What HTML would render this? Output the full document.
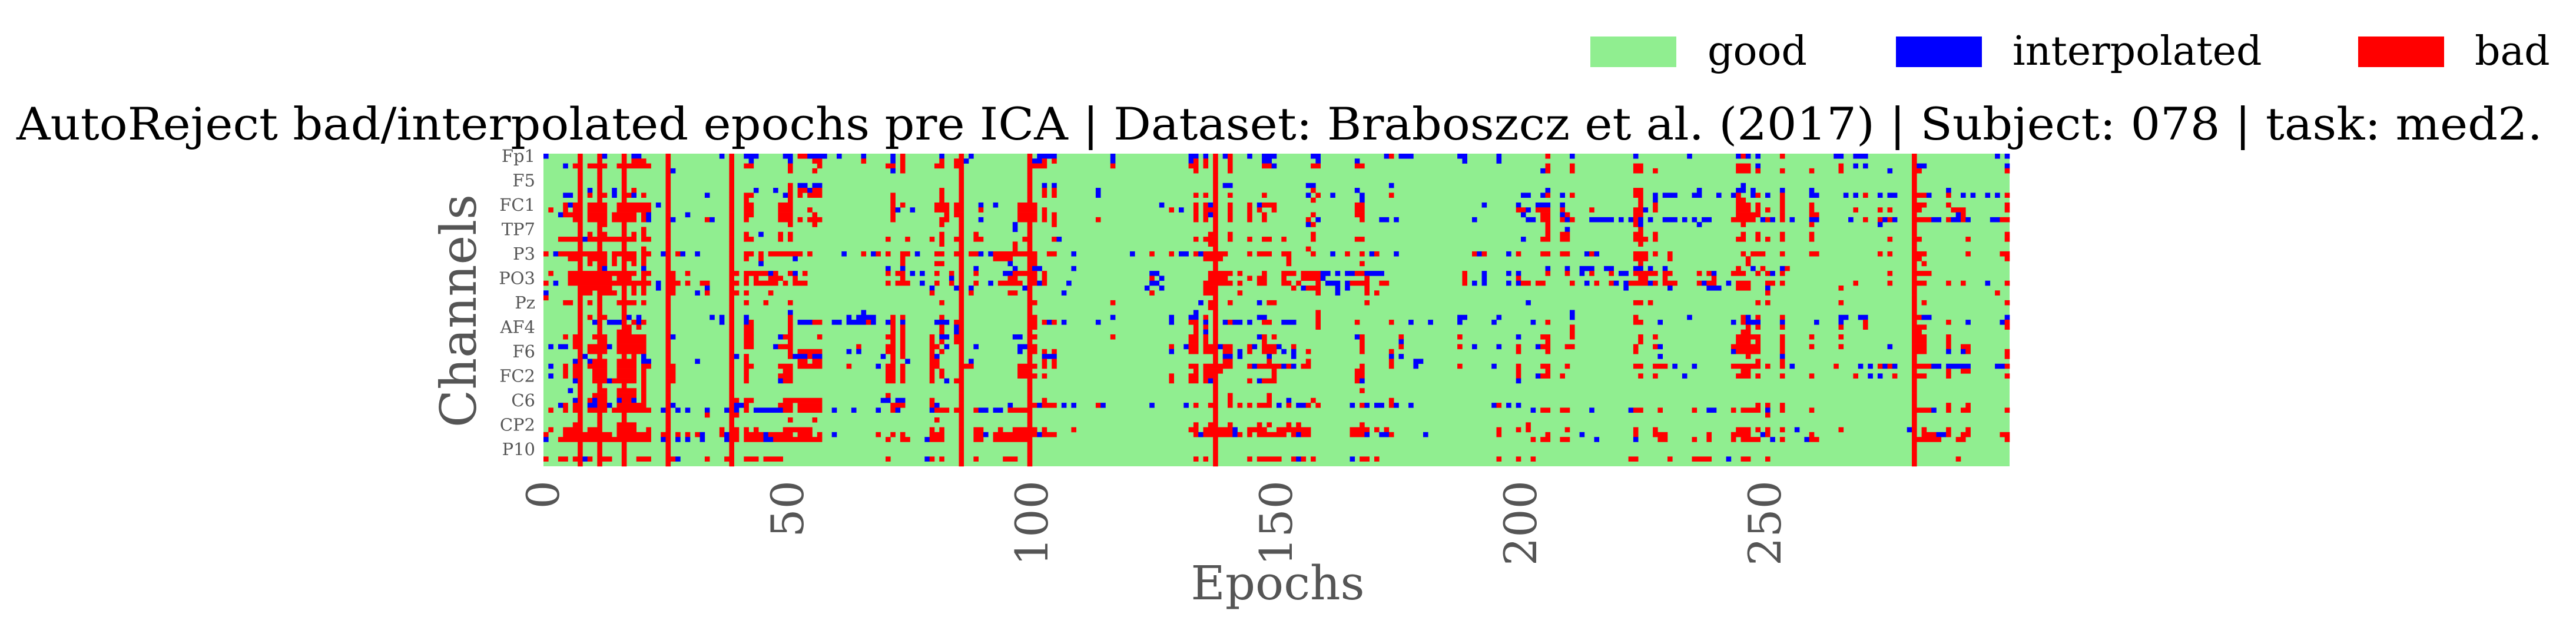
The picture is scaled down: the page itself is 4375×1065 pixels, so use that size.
<!DOCTYPE html>
<html><head><meta charset="utf-8"><style>
html,body{margin:0;padding:0;background:#fff;}
svg{display:block;}
text{font-family:"DejaVu Serif","Liberation Serif",serif;}
</style></head><body>
<svg id="chart" width="4375" height="1065" viewBox="0 0 4375 1065" xmlns="http://www.w3.org/2000/svg">
<g>
<rect x="2701" y="62" width="146" height="52" fill="#90ee90"/>
<text x="2900" y="110" font-size="68" fill="#000">good</text>
<rect x="3220" y="62" width="146" height="52" fill="#0000ff"/>
<text x="3418" y="110" font-size="68" fill="#000">interpolated</text>
<rect x="4005" y="62" width="146" height="52" fill="#ff0000"/>
<text x="4203" y="110" font-size="68" fill="#000">bad</text>
</g>
<text x="2173" y="237" font-size="76" text-anchor="middle" textLength="4290" lengthAdjust="spacingAndGlyphs" fill="#000">AutoReject bad/interpolated epochs pre ICA | Dataset: Braboszcz et al. (2017) | Subject: 078 | task: med2.</text>
<g id="plot"></g>
<g id="yticks"></g>
<g id="xticks"></g>
<text transform="translate(808,528) rotate(-90)" font-size="84" text-anchor="middle" fill="#555">Channels</text>
<text x="2170" y="1018" font-size="80" text-anchor="middle" fill="#555">Epochs</text>
</svg>
<script>
const nEpochs = 300;
const channelNames = ["Fp1","AF7","AF3","F1","F3","F5","F7","FT7","FC5","FC3","FC1","C1","C3","C5","T7","TP7","CP5","CP3","CP1","P1","P3","P5","P7","P9","PO7","PO3","O1","Iz","Oz","POz","Pz","CPz","Fpz","Fp2","AF8","AF4","AFz","Fz","F2","F4","F6","F8","FT8","FC6","FC4","FC2","FCz","Cz","C2","C4","C6","T8","TP8","CP6","CP4","CP2","P2","P4","P6","P8","P10","PO8","PO4","O2"];
const xTickValues = [0,50,100,150,200,250];
const badEpochs = [7,11,16,25,38,85,99,137,280];
const cellRows = [
"b0 b11 b12 b16 b18-19 b36 b41-43 b49-50 52-53 b54-57 b60 b65 b71 73 b81 b87 b101 b102-104 b116 b132-133 b135 b139 140 b144 b147-149 b157-158 b172 173 b175-177 b187-188 b195 205 b210 b223 b234 b244 245 b246 b248 253 b264-265 b268-270 b297 b299",
"b11 18-20 b38 b42 b50 55-56 65 b71 73 81 84 b86 b100 b101 102 104 b116 b132 133 135 140 b147-148 b158 b166 b188 b195",
"b4 6 9-12 15 b16 17-21 41-42 50 56 70-71 73 80 81 84 99-101 102 116 132-133 135 140 147-148 b149 157-158 166-167 205 210 223-224 244-246 b248 265 b268 b270 b281-282 b299",
"11 16 b26 50 55 b71 73 133 140 b204 205 210 223-224 227 244-246 248 253 259 265 b275 281 299",
"",
"",
"b16 50 b52-53 b55-56 b102 b104 b139-140 b156-157 b173 b245",
"b9 b14 18 b43 b47 50 52-53 b54 55-56 81 102 104 b113 157 b166 b205 223-224 b236 b244-245 b247 b253 b259 b287",
"b4-5 9 12 b14 17 b18 20 b33 41-42 b49 50 52 54-56 71 81 b99 102 104 b113 133 135 140 147 b156 158 b161 b167 173 b200 b201 b204 205 b208 210 223-224 b227 b229-231 b235-236 b240 b243 244 b247 248 b250 253 b259-260 b266 b268 270 b273 b275-276 281-282 b283 287 b290 b292 b295 b297 299",
"41 50 71 81 157 b167 224 b227 244-245 253",
"4 b5 6 9-12 15-21 b23 41-42 48-50 71 73 80-82 84 b89 b92 97-98 100 b126 133 135 b136 140 144 b146 147-149 166-167 b192 b199 b203-205 b208 224 227 244-246 248 253 259 281-282 287 299",
"1 4 6 9-12 15-21 41-42 48-50 54 71 b72 b75 80-82 84 89 97-98 100 102 128 b130 133 135-136 140 144 146 149 166-167 199-200 b201 203-205 208 214 223-224 b225 227 244-246 248 250 253 259 268 273 275 281 288-290 299",
"b3 4-6 9-12 14-18 20 b21 b29 41-42 48-50 55 71 82 84 97-98 100 102 104 133 135 b136 140 144 147 157 166-167 b200 204-205 b208 209 223-224 244-248 253 259-260 b289 290",
"6 9-12 14-18 20 b21 b26 33 b34 41 48-50 52 54-56 71 81-82 b89 97-98 100 102 104 113 133 135 140 144 147 156 b158 167 b171 b172 b174 b190 b201-202 204-205 208 b209 210 b214-218 b220 b222 223 b224 b226 b229-231 b233 b235 b237-238 243-247 b249 250 b251 253 b255 b259-260 b267 270 273 b274 275 b276 281-283 b284-285 287 b288-289 290 b291 b296-297 298 299",
"12 50 55 81 b96 104 b156 157 205 223 b224 b236 245 259 b273",
"20 b96 205 b209 224",
"9 12 18 20 41 b44 48 50 81 88 136 140 157 205 208-209 223-224 227 245 248 253 259 299",
"3-6 b8 9-18 20-21 41-42 48 50 70 74 79 81 84 88-89 98 104 b105 133 135-136 140 144 147-148 151 157 166-167 b200 204-205 208-209 223-225 227 244-245 248 250 253 259 275 281 291 299",
"81 96 136 224",
"20 96 156",
"0 b2 3-12 14-18 20-21 b24 27 b28 b31 41-42 44 46-52 54 b61 65 b67 68 70 73-74 b76 80-81 84 87-88 b89 b91 92-98 100 103-104 b108 b120 124 128 b130-131 133 b134 135-139 144 146-148 151-152 157 b161 164 167 b169 170 b174 190 b191 192 b197 199 204-205 208-209 b213 214 b215 223-225 227 230 245 247-249 253 259-260 273 275 281-282 291 298-299",
"5-7 9-12 14 16-18 20 41 44 b51 73 92-95 100 135-138 152 223-225 230 246 281 299",
"9 12 14 18 20 b44 73 80-81 b95 100 152 167 224 246 282",
"b12 b20 b70 b73 b88 b96 b100 b101 b108 b205 b209 b212-214 b217-218 b223-224 b226 b229 244 b247 249 b253 254",
"1 5-10 12-18 20-21 26 29 39 41-45 b46 47 50 b51 53 70 72-73 b75 b77 80 83 88 b94-95 96-98 100 102 b124-125 136-140 142 147 151-153 155-158 b159-160 b162 b164-165 166-167 b168-171 188 b192 b197 b199 205 209 b212 214 218 b220-221 223-227 229-230 236 238 b239 243-245 248 250 b251 253 275 281-283",
"5-10 12-13 15 17 20 26 41 43 46-48 51 73 b83 95-96 100 102 124 b126 136-139 144 146-147 151 155-158 b159 168 188 b192 199 224-225 229 239",
"0 b2 5-21 b23 26-27 29 32-33 39 41 43-47 49 51-53 70 72-74 b77 80 83 88 b91 93-97 100 b101 102 b107 b124-125 135-140 142 146-147 151-152 154 158 b160-162 b164 165-168 171-172 188 b190 b192 b197 b199 200-201 203-204 210 b213 215 218 b219 b221 222-225 b226 227 229-231 236 b237 238-239 b242 244-246 250-251 253 268 275 281-282 287 290 b295 299",
"8-10 12-13 18 20 b23 26 b33 b79 b84 b87 b98 b123 b126 135-136 153 b155 156-158 b162 b164 168 b221 b230 b238-240 244-246 b250 265",
"b0 8-9 12-14 18 20 26 b31 33 39 41 46 79 87 95-96 b106 124 135-136 142 158 b162 168 170 250 297",
"0",
"4-5 9 15-18 20 41 45 50 81 100 116 b134 136 140 b146 148-149 168 b201 223-224 226 248 250 265 282 299",
"136",
"b11 b50 b65 b133 158 b210",
"9 12 b17 b19 b34 b36 b41 50 b62 b64-67 71 73 81 100 b116 b128 b132-133 135 b146-147 158 b187-188 b195 b210 223 b234 245 b246 248 253 b265-266 b269-270 281 b282-283 b299",
"b10 b13-15 18 b19 20 b36 b41 42 50 b52-54 55-56 b59-60 b62-65 66 b67 b70 71 b73 b80-82 84 100 102 b103 104 b106 b113 b128 132-133 b135 b139 140 b141-142 b144 147-148 b151-153 158 166 173 b177 b181 b187 b194 b202 205 223-224 b228 b243 245 b246-248 b253 b260 b265 270 287 b291 b298 299",
"17 19 41-42 50 71 73 81 b84 100 133 135 158 210 246 248 253 265 270 281-282 299",
"15 17 41-42 50 71 73 81 b84 133 b135 210 245-246 281",
"4 6 10 12 15 17-20 b26 41-42 b48 49-50 56 70-71 73 79 b81-82 84 b96-97 100 116 132-133 135 b146 147 149 b166 167 175 187 b199 204-205 210 224 227 244-248 253 259 265 281-282 287",
"6 12 15 17-20 41-42 50 71 73 79 81 84 132-133 135 147 167 b175 205 224 244-246 248 253 281-282 287",
"b1 b3-4 6 9-10 12 b13 15 17-20 41-42 b47 48-50 64 70-71 73 79-80 b82 b88 b97-98 100 128 b131 132-133 135-136 b138 139-140 144 b145 147-149 b150 153 167 175 187 b190 b195 199 b203 204-205 209-210 223 227 b228 243-248 253 259 265 b275 281-282 287 290-291",
"9-10 12 15 17-20 50 52-56 b62 b64 70-71 73 79 81 b97 100 102 104 b128 132-133 135-136 139-140 b142 144 147-149 b151 b153 156 167 173 199 205 223 b243 244-248 253 281-282 b287 b290 291 299",
"b8 18 b20 b39 41 50 b51-53 54 b55-56 b69 71 73 79 b80 b102-104 b139-140 b142 b148 b153 b173 b175 b228 246 b253 299",
"b6 b9 10 12 15 17-18 b20-21 b31 41 52-53 55-56 71 b74 79 80 b87 102 104 139-140 148 156 173 b178-179 248 253",
"b1 4 6 9-10 12 15 17-18 20-21 26 41-42 48-50 52-56 62 b68 70-71 73 79-80 86-87 97-98 100 102 104 132-133 135-140 144 b145 146-150 b151 152 b153 155-156 167 173 b178 187 b194 199 204-205 209 223-224 227-229 b231 b235 243-248 250 253 b255 264 b269 b271 273 b274 275 b276 281-283 b284-285 b287-291 b297-298 299",
"4 6 10 12 15 17-18 20 26 41 49-50 70-71 73 79 81 97-98 133 135-136 138 149 166-167 199 205 245-246 287 290-291",
"b1 4 6 10 12 15 17-18 20 26 41 48-50 70-71 73 79 81 97-98 100 102 128 132-133 135-136 149 166-167 199 b203 204-205 208 224 227 b233 244-246 248 253 259 268 b271 b273 276 281-282 287 299",
"b6 10 12 b13 14-15 17-18 20 26 41 b48 49-50 70-71 73 79 b82 84 128 132-133 135 b136 144 b146 147-149 166 b167 b199",
"20",
"b5 12 15 17-18 20 167",
"10 12 15 17-18 20 70 140 148",
"b6 9 b10 12 b15 17 b18 20 39 41-42 49-54 55-56 b69 b70 b72-73 79 102 140 148 b152 157 173",
"b3 4 6 b9-10 12 b13 15 17-20 b26 b39-40 41 48-50 52-56 71-73 79 b80 b95 100 b101 102-104 b106 b108 113 b114 b124 b131 133 136 140 142 144 146-148 b150 152 b154-155 156 158 b165 167 b168 b170-171 173 b174 b177 b194 195 b197 b199 248 250 253 287 291",
"1 4 6 9-10 12 14-15 17-21 b24 b27 b29 b33 b37 b39 41 b43-48 49-50 52-56 b59 b63 b68 71 b72 b79 80-82 84 88 b89-90 b92-93 95-98 b202 204-205 208-209 b214 b222 223-224 228 235 b238-239 243 245-248 b250 253 259 281-283 b284 287 290-291 299",
"33 39 250",
"50 55 80",
"6 15 17-18 133 136 140 146 148 152 154 167 201",
"1 4-6 9-10 15 17-18 21 36 39 41 43 49-54 79 81 88-89 93 96-98 100 102 108 132-133 135-140 b141 144-147 150-156 165-168 170 172 195 199 201 209 223 227 244-246 248 250 253 b256 265 b279 282 287 291",
"0 4-6 8-10 12-13 15 17-21 24 27 29 31 b32 36 b37 39 41-44 b45 46-50 52-54 56 b59 68 71 73 79-81 88-89 b90 92-98 100 b101 102-104 133 b134 135-140 b141 142 144 146-151 153 b154 155-156 165-167 b168 b171-172 173 b180 195 205 b212 223 227-229 238 243-246 b249 250 259 282-284 b285-286 287 290-291 298-299",
"b0 3-6 8-10 12-15 17-21 b24 b27 b29 b32 b37 39 41-44 b45-46 47-56 70 73-74 b78 79-81 88-89 92-98 202 204-205 208-209 b215 b223 228-229 235 238 243 245-248 b251 253 b258 259-260 281-285 289-290 299",
"",
"",
"",
"0 3-4 6 b8 9 12-13 19-21 26 b27 33 37 41-43 45-48 70 b78 79 81 88 94-96 133 135 144 146-150 153 b154 155 157 b165 167-168 170 195 199 202 222-223 230 235-237 238 b242 245-246 250 289",
""
];

const NS = "http://www.w3.org/2000/svg";
const PL = 923, PR = 3413, PT = 261, PB = 792;
const cw = (PR - PL) / nEpochs;
const rh = (PB - PT) / channelNames.length;
function xScale(e){ return PL + e * cw; }
function yScale(r){ return PT + r * rh; }
const COLORS = {g:"#90ee90", b:"#0000ff", r:"#ff0000"};

// build grid
const grid = channelNames.map(() => new Array(nEpochs).fill("g"));
cellRows.forEach((s, r) => {
  if (!s) return;
  s.split(/\s+/).forEach(tok => {
    if (!tok) return;
    let c = "r";
    if (tok[0] === "b") { c = "b"; tok = tok.slice(1); }
    const p = tok.split("-").map(Number);
    const a = p[0], z = p.length > 1 ? p[1] : p[0];
    for (let e = a; e <= z; e++) if (e >= 0 && e < nEpochs) grid[r][e] = c;
  });
});
badEpochs.forEach(e => { for (let r = 0; r < grid.length; r++) grid[r][e] = "r"; });

const plot = document.getElementById("plot");
const bg = document.createElementNS(NS, "rect");


bg.setAttribute("x", PL); bg.setAttribute("y", PT);
bg.setAttribute("width", PR - PL); bg.setAttribute("height", PB - PT);
bg.setAttribute("fill", COLORS.g);
plot.appendChild(bg);

grid.forEach((row, r) => {
  let e = 0;
  while (e < nEpochs) {
    const c = row[e];
    let k = e;
    while (k + 1 < nEpochs && row[k + 1] === c) k++;
    if (c !== "g") {
      const rect = document.createElementNS(NS, "rect");
      
      
      rect.setAttribute("x", xScale(e).toFixed(2));
      rect.setAttribute("y", yScale(r).toFixed(2));
      rect.setAttribute("width", (xScale(k + 1) - xScale(e) + 0.3).toFixed(2));
      rect.setAttribute("height", (rh + 0.3).toFixed(2));
      rect.setAttribute("fill", COLORS[c]);
      plot.appendChild(rect);
    }
    e = k + 1;
  }
});

const yt = document.getElementById("yticks");
channelNames.forEach((n, i) => {
  if (i % 5 !== 0) return;
  const t = document.createElementNS(NS, "text");
  
  
  t.setAttribute("x", PL - 14);
  t.setAttribute("y", (yScale(i) + rh / 2 + 10).toFixed(1));
  t.setAttribute("font-size", "29");
  t.setAttribute("text-anchor", "end");
  t.setAttribute("fill", "#555");
  t.textContent = n;
  yt.appendChild(t);
});

const xt = document.getElementById("xticks");
xTickValues.forEach(v => {
  const t = document.createElementNS(NS, "text");
  
  
  const x = xScale(v) + 26;
  t.setAttribute("transform", "translate(" + x.toFixed(1) + ",816) rotate(-90)");
  t.setAttribute("font-size", "76");
  t.setAttribute("text-anchor", "end");
  t.setAttribute("fill", "#555");
  t.textContent = String(v);
  xt.appendChild(t);
});
</script>
</body></html>
